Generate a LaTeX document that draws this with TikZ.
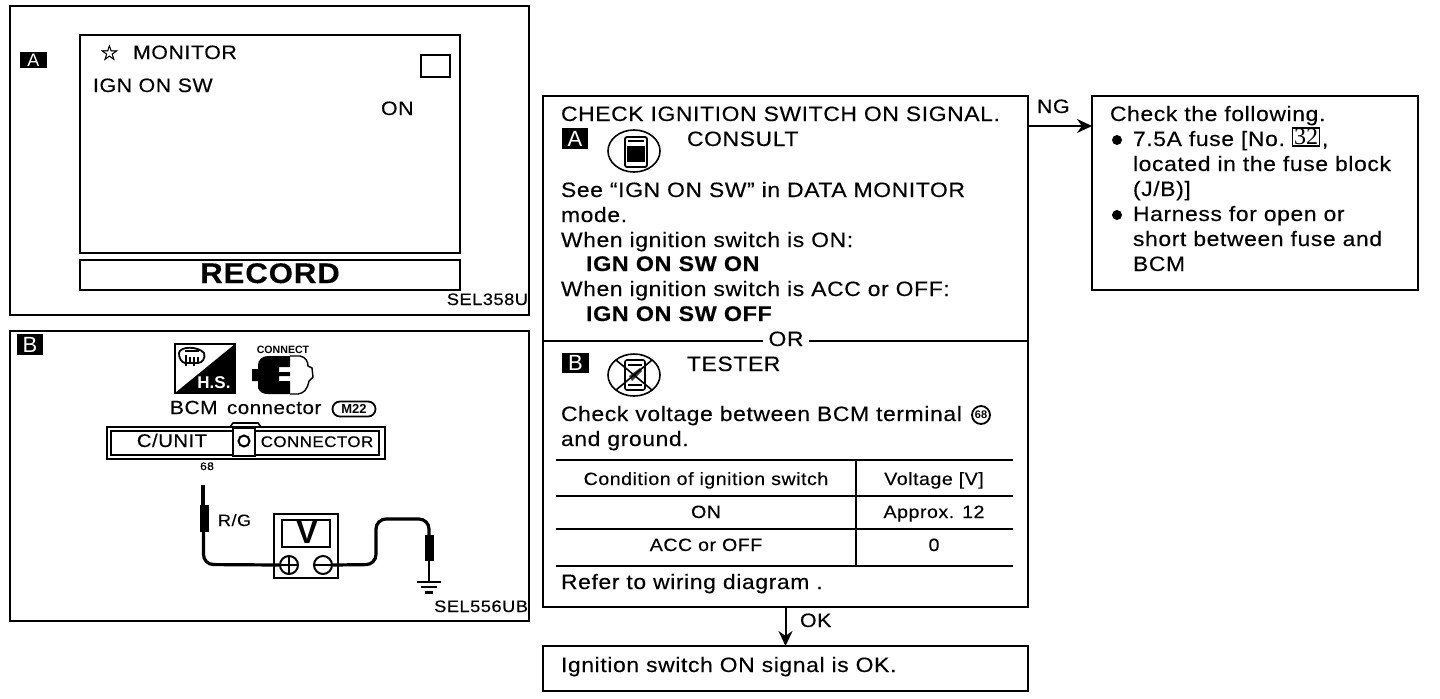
\documentclass[tikz,border=0pt]{standalone}
\usepackage{fontspec}
\setmainfont{Liberation Sans}[LetterSpace=3,FakeStretch=1.1,FakeBold=0.3]
\newfontfamily\plainsans{Liberation Sans}
\newfontfamily\dejavu{DejaVu Sans}[FakeBold=1.5]
\newfontfamily\serifnum{Liberation Serif}
\usetikzlibrary{arrows.meta}
\tikzset{
  line/.style={draw=black,line width=1pt},
  rectbox/.style={draw=black,line width=1pt,anchor=north west,inner sep=0pt,outer sep=0pt},
  txt/.style={anchor=base west,inner sep=0pt,outer sep=0pt,font=\fontsize{10.4}{12}\selectfont,text=black},
  ptxt/.style={txt,font=\fontsize{9.7}{12}\selectfont},
  ttxt/.style={txt,anchor=base,font=\fontsize{8.9}{10}\selectfont},
  btxt/.style={txt,font=\fontsize{10.6}{12}\bfseries\selectfont},
  ctxt/.style={txt,anchor=base},
  lab/.style={fill=black,text=white,inner sep=0pt,outer sep=0pt,anchor=north west,font=\fontsize{11}{12}\plainsans\selectfont,align=center},
  flow/.style={line,-{Stealth[length=7.5pt,width=7pt]}},
  wire/.style={line width=1.6pt,rounded corners=5pt},
  dot/.style={circle,fill=black,inner sep=0pt,minimum size=5pt,outer sep=0pt},
}
\begin{document}
\begin{tikzpicture}[x=0.5pt,y=-0.5pt]
\useasboundingbox (0,0) rectangle (1440,698);
% panel A
\node[rectbox,minimum width=259.5pt,minimum height=154.5pt] (panelA) at (10,6) {};
\node[lab,minimum width=13.5pt,minimum height=8pt,font=\fontsize{9}{9}\plainsans\selectfont] (labA1) at (20,52) {A};
\node[rectbox,line width=1.2pt,minimum width=190pt,minimum height=109pt] (screen) at (80,35) {};
\node[rectbox,line width=1.2pt,minimum width=190pt,minimum height=15pt] (record) at (80,260) {};
\node[rectbox,line width=1.2pt,minimum width=14.5pt,minimum height=11pt] (corner) at (421,55) {};
\node[txt,font=\fontsize{10.5}{12}\dejavu\selectfont] (star) at (100,60) {☆};
\node[ptxt] (monitor) at (133,59) {MONITOR};
\node[ptxt] (ignsw) at (93,92) {IGN ON SW};
\node[ptxt] (onv) at (381,115) {ON};
\node[ctxt,font=\fontsize{14.2}{15}\bfseries\selectfont] (rec) at (270,283) {RECORD};
\node[txt,anchor=base east,font=\fontsize{8.3}{10}\selectfont] (sel1) at (528,305) {SEL358U};
% panel B
\node[rectbox,minimum width=259.5pt,minimum height=145pt] (panelB) at (10,331) {};
\node[lab,minimum width=13pt,minimum height=10.5pt] (labB1) at (17,334) {B};
% H.S. icon
\node[rectbox,line width=.6pt,minimum width=30pt,minimum height=24.5pt] (hs) at (175,344) {};
\fill[black] (hs.north east) -- (hs.south east) -- (hs.south west) -- cycle;
\node[ctxt,text=white,font=\fontsize{8.5}{9}\bfseries\plainsans\selectfont] (hstext) at (214,388) {H.S.};
\draw[line width=.9pt,fill=white] (179,353) .. controls (180,346) and (198,346) .. (204,353) .. controls (206,358) and (202,363) .. (198,363) -- (185,363) .. controls (181,362) and (179,358) .. (179,353) -- cycle;
\draw[line width=.8pt] (185,351) -- (199,351) (186,355) -- (186,366) (190,357) -- (190,364) (194,357) -- (194,366) (198,357) -- (198,364);
% connect icon
\node[ctxt,font=\fontsize{5.3}{6}\bfseries\plainsans\selectfont] (conntxt) at (283,353) {CONNECT};
\fill[black] (258,369) -- (252,369) -- (252,381) -- (258,381) -- (258,388) .. controls (260,393) and (264,394) .. (268,394) -- (290,394) -- (290,381) -- (279,381) -- (279,376) -- (290,376) -- (290,372) -- (279,372) -- (279,367) -- (290,367) -- (290,356) -- (268,356) .. controls (262,356) and (258,360) .. (258,365) -- cycle;
\draw[line width=.7pt] (290,356) -- (300,356) .. controls (306,357) and (308,362) .. (308,366) -- (312,368) -- (313,377) -- (309,381) .. controls (307,390) and (304,393) .. (298,394) -- (290,394);
% connector
\node[txt,font=\fontsize{9.5}{11}\selectfont] (bcm) at (170,414) {BCM};
\node[txt,font=\fontsize{9.3}{11}\selectfont] (bcm2) at (227,414) {connector};
\node[draw,line width=.9pt,rounded corners=3.7pt,minimum width=21.5pt,minimum height=7.5pt,inner sep=0pt,font=\fontsize{6.5}{7}\bfseries\plainsans\selectfont] (m22) at (354,409) {M22};
\draw[line width=.8pt] (230,427) -- (233,423) -- (258,423) -- (261,427);
\node[rectbox,minimum width=139pt,minimum height=16pt] (connout) at (107,427) {};
\node[rectbox,line width=.8pt,minimum width=134pt,minimum height=12pt] (connin) at (111,431) {};
\draw[line width=1pt,fill=white] (233,428) rectangle (255,456);
\draw[line width=1pt] (244,441) circle (5.5);
\node[ctxt,font=\fontsize{9.2}{10}\selectfont] (cunit) at (172,447) {C/UNIT};
\node[ctxt,font=\fontsize{7.7}{10}\selectfont] (cconn) at (317,447) {CONNECTOR};
\node[ctxt,font=\fontsize{5.5}{6}\selectfont] (pin) at (207,470) {68};
% probes and meter
\node[rectbox,line width=1.3pt,minimum width=32pt,minimum height=32pt] (meter) at (274,514) {};
\node[rectbox,line width=1.3pt,minimum width=24pt,minimum height=13.5pt] (vwin) at (282,520) {};
\node[ctxt,font=\fontsize{16}{17}\bfseries\plainsans\selectfont] (vtxt) at (307,543) {V};
\node[draw,circle,line width=1pt,minimum size=9pt,inner sep=0pt] (plus) at (289,565) {};
\node[draw,circle,line width=1pt,minimum size=9pt,inner sep=0pt] (minus) at (323,565) {};
\draw[line width=.9pt] (plus.north) -- (plus.south) (plus.west) -- (plus.east) (minus.west) -- (minus.east);
\coordinate (ptop) at (203,485);
\coordinate (gtop) at (429,581);
\draw[line width=1.7pt] (ptop) -- (203,505);
\fill[black] (199.5,505) rectangle (208.5,532);
\draw[wire] (203.5,532) -- (203.5,564.5) -- (plus.west);
\draw[wire] (minus.east) -- (376,564.5) -- (376,519) -- (429,519) -- (429,536);
\fill[black] (424.5,535) rectangle (433.5,561);
\draw[line width=1.4pt] (429,561) -- (gtop);
\draw[line width=1.1pt] (417,582) -- (441,582) (421,587) -- (437,587);
\draw[line width=1.5pt] (425,592) -- (433,592);
\node[txt,font=\fontsize{8.2}{9}\selectfont] (rg) at (218,526) {R/G};
\node[txt,anchor=base east,font=\fontsize{8.3}{10}\selectfont] (sel2) at (528,612) {SEL556UB};
% main box
\node[rectbox,minimum width=242.5pt,minimum height=255.5pt] (main) at (543,96) {};
\node[rectbox,minimum width=163pt,minimum height=97pt] (fix) at (1092,96) {};
\node[rectbox,minimum width=242.5pt,minimum height=22.5pt] (okbox) at (543,646) {};
\coordinate (ngy) at (1060,126);
\draw[flow] (main.east |- ngy) -- (fix.west |- ngy);
\draw[flow] (main.south) -- (okbox.north);
\node[ptxt] (ng) at (1037,113) {NG};
\node[ptxt] (ok) at (800,627) {OK};
\node[txt] (t1) at (561,121) {CHECK IGNITION SWITCH ON SIGNAL.};
\node[lab,minimum width=13pt,minimum height=10.5pt] (labA2) at (562,128) {A};
\draw[line width=.8pt] (634,151) ellipse (26 and 21);
\draw[line width=.9pt,rounded corners=1pt] (625,137) rectangle (647,167);
\fill[black] (627,146) rectangle (645,162);
\draw[line width=.6pt] (628,141) -- (644,141);
\node[txt] (consult) at (687,146) {CONSULT};
\node[txt] (t2) at (561,197) {See “IGN ON SW” in DATA MONITOR};
\node[txt] (t3) at (561,222) {mode.};
\node[txt] (t4) at (561,247) {When ignition switch is ON:};
\node[btxt] (t5) at (586,271) {IGN ON SW ON};
\node[txt] (t6) at (561,296) {When ignition switch is ACC or OFF:};
\node[btxt] (t7) at (586,321) {IGN ON SW OFF};
\coordinate (spl) at (785,341);
\draw[line] (main.west |- spl) -- (main.east |- spl);
\node[ctxt,fill=white,inner xsep=3pt] (ortxt) at (786,346) {OR};
\node[lab,minimum width=13.5pt,minimum height=10pt] (labB2) at (562,353) {B};
\draw[line width=.8pt] (634,375) ellipse (26 and 21);
\draw[line width=.8pt,rounded corners=1pt] (625,360) rectangle (645,390);
\draw[line width=.6pt] (628,365) -- (642,365) (628,385) -- (642,385);
\fill[black!75] (629,376) -- (640,368) -- (642,371) -- (632,381) -- cycle;
\draw[line width=.8pt] (616,360) -- (652,390) (616,390) -- (652,360);
\node[txt] (tester) at (687,371) {TESTER};
\node[txt] (t8) at (561,421) {Check voltage between BCM terminal};
\node[draw,circle,line width=.9pt,minimum size=9pt,inner sep=0pt,font=\fontsize{5.5}{6}\bfseries\plainsans\selectfont] (t68) at (981,415) {68};
\node[txt] (t9) at (561,446) {and ground.};
% table
\coordinate (tl) at (556,460);
\coordinate (tr) at (1013,460);
\draw[line width=1.3pt] (tl) -- (tr);
\draw[line width=.6pt] (556,496) -- (1013,496) (556,529) -- (1013,529);
\draw[line width=1.3pt] (556,566) -- (1013,566);
\draw[line width=1pt] (856,460) -- (856,566);
\node[ttxt] (c1) at (706,485) {Condition of ignition switch};
\node[ttxt] (c2) at (934,485) {Voltage [V]};
\node[ttxt] (c3) at (706,518) {ON};
\node[ttxt] (c4) at (934,518) {Approx. 12};
\node[ttxt] (c5) at (706,551) {ACC or OFF};
\node[ttxt] (c6) at (934,551) {0};
\node[txt] (t10) at (561,589) {Refer to wiring diagram .};
\node[txt] (t11) at (561,672) {Ignition switch ON signal is OK.};
% right box
\node[txt] (r1) at (1110,121) {Check the following.};
\node[dot] (b1) at (1117,140) {};
\node[txt] (r2) at (1133,146) {7.5A fuse [No.};
\node[draw,line width=.7pt,inner sep=0pt,minimum width=13.5pt,minimum height=9pt,outer sep=0pt,font=\fontsize{12}{12}\serifnum\selectfont] (r2b) at (1306,137) {32};
\node[txt] (r2c) at (1322,146) {,};
\node[txt] (r3) at (1133,171) {located in the fuse block};
\node[txt] (r4) at (1133,196) {(J/B)]};
\node[dot] (b2) at (1117,215) {};
\node[txt] (r5) at (1133,221) {Harness for open or};
\node[txt] (r6) at (1133,246) {short between fuse and};
\node[txt] (r7) at (1133,271) {BCM};
\end{tikzpicture}
\end{document}
